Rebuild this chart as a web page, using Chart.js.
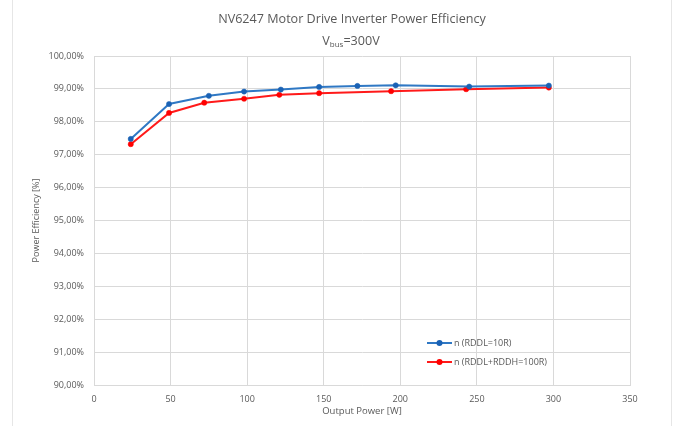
<!DOCTYPE html>
<html>
<head>
<meta charset="utf-8">
<script src="https://cdn.jsdelivr.net/npm/chart.js@4.4.1/dist/chart.umd.min.js"></script>
<style>
    html, body { margin: 0; padding: 0; background: #fff; }
    #wrap { width: 674px; height: 426px; }
</style>
</head>
<body>
<div id="wrap"><canvas id="chart-eff"></canvas></div>
<script>
// data
const blueX = [24, 49, 75, 98, 122, 147, 172, 197, 245, 297]
const blueY = [97.48, 98.54, 98.79, 98.92, 98.98, 99.06, 99.09, 99.11, 99.07, 99.10]
const redX = [24, 49, 72, 98, 121, 147, 194, 243, 297]
const redY = [97.32, 98.27, 98.58, 98.70, 98.82, 98.87, 98.93, 98.99, 99.04]
const seriesNames = ['n (RDDL=10R)', 'n (RDDL+RDDH=100R)']
const seriesColors = ['#2f78c4', '#ff1a1a']
const pointColors = ['#1a62b5', '#ff0000']

const FONT = '"Open Sans", "Noto Sans", sans-serif'
const GREY = '#595959'

const toPoints = (xs, ys) => xs.map((x, i) => ({ x: x, y: ys[i] }))

// title with subscript, legend box, frame lines
const decorPlugin = {
    id: 'decor',
    afterDraw: function (chart) {
        const ctx = chart.ctx
        const area = chart.chartArea
        ctx.save()

        // thin frame at the sides
        ctx.strokeStyle = '#e6e6e6'
        ctx.lineWidth = 1
        ctx.beginPath()
        ctx.moveTo(12.5, 0)
        ctx.lineTo(12.5, 426)
        ctx.moveTo(671.5, 0)
        ctx.lineTo(671.5, 426)
        ctx.stroke()

        // title
        ctx.fillStyle = GREY
        ctx.textBaseline = 'middle'
        ctx.textAlign = 'center'
        ctx.font = '12.6px ' + FONT
        ctx.fillText('NV6247 Motor Drive Inverter Power Efficiency', 352, 19)

        // second line: V_bus=300V
        ctx.textAlign = 'left'
        const big = '12.6px ' + FONT
        const small = '8px ' + FONT
        ctx.font = big
        const wV = ctx.measureText('V').width
        const wRest = ctx.measureText('=300V').width
        ctx.font = small
        const wSub = ctx.measureText('bus').width
        let x = 351 - (wV + wSub + wRest) / 2
        ctx.font = big
        ctx.fillText('V', x, 41)
        x += wV
        ctx.font = small
        ctx.fillText('bus', x, 45)
        x += wSub
        ctx.font = big
        ctx.fillText('=300V', x, 41)

        // legend inside the plot
        const lx = area.left + 333
        const ly = [343, 362]
        ctx.font = '9px ' + FONT
        seriesNames.forEach((name, i) => {
            ctx.strokeStyle = seriesColors[i]
            ctx.lineWidth = 2
            ctx.beginPath()
            ctx.moveTo(lx, ly[i])
            ctx.lineTo(lx + 25, ly[i])
            ctx.stroke()
            ctx.fillStyle = pointColors[i]
            ctx.beginPath()
            ctx.arc(lx + 12.5, ly[i], 3, 0, Math.PI * 2)
            ctx.fill()
            ctx.fillStyle = GREY
            ctx.textAlign = 'left'
            ctx.fillText(name, lx + 27, ly[i])
        })
        ctx.restore()
    },
}

const chartCtx = document.getElementById('chart-eff').getContext('2d')
const chartEff = new Chart(chartCtx, {
    type: 'line',
    data: {
        datasets: [
            {
                label: seriesNames[0],
                data: toPoints(blueX, blueY),
                borderColor: seriesColors[0],
                backgroundColor: pointColors[0],
                pointBackgroundColor: pointColors[0],
                pointBorderColor: pointColors[0],
                borderWidth: 2,
                pointRadius: 2.6,
                pointBorderWidth: 0.5,
                tension: 0,
            },
            {
                label: seriesNames[1],
                data: toPoints(redX, redY),
                borderColor: seriesColors[1],
                backgroundColor: pointColors[1],
                pointBackgroundColor: pointColors[1],
                pointBorderColor: pointColors[1],
                borderWidth: 2,
                pointRadius: 2.6,
                pointBorderWidth: 0.5,
                tension: 0,
            },
        ],
    },
    options: {
        responsive: true,
        maintainAspectRatio: false,
        animation: false,
        layout: {
            padding: { top: 56, right: 44, bottom: 0, left: 0 },
        },
        plugins: {
            legend: { display: false },
            title: { display: false },
            tooltip: { enabled: false },
        },
        scales: {
            x: {
                type: 'linear',
                min: 0,
                max: 350,
                ticks: {
                    stepSize: 50,
                    color: GREY,
                    font: { family: FONT, size: 9 },
                    padding: 9,
                },
                grid: { color: '#d9d9d9', drawTicks: false },
                border: { color: '#d9d9d9' },
                title: {
                    display: true,
                    text: 'Output Power [W]',
                    color: GREY,
                    font: { family: FONT, size: 9.5 },
                    padding: { top: 0, bottom: 9 },
                },
                afterFit: function (scale) {
                    scale.height = 41
                },
            },
            y: {
                min: 90,
                max: 100,
                ticks: {
                    stepSize: 1,
                    color: GREY,
                    font: { family: FONT, size: 9 },
                    padding: 10,
                    callback: (v) => v.toFixed(2).replace('.', ',') + '%',
                },
                grid: { color: '#d9d9d9', drawTicks: false },
                border: { color: '#d9d9d9' },
                title: {
                    display: true,
                    text: 'Power Efficiency [%]',
                    color: GREY,
                    font: { family: FONT, size: 9 },
                    padding: { top: 31, bottom: 0 },
                },
                afterFit: function (scale) {
                    scale.width = 94
                },
            },
        },
    },
    plugins: [decorPlugin],
})
</script>
</body>
</html>
